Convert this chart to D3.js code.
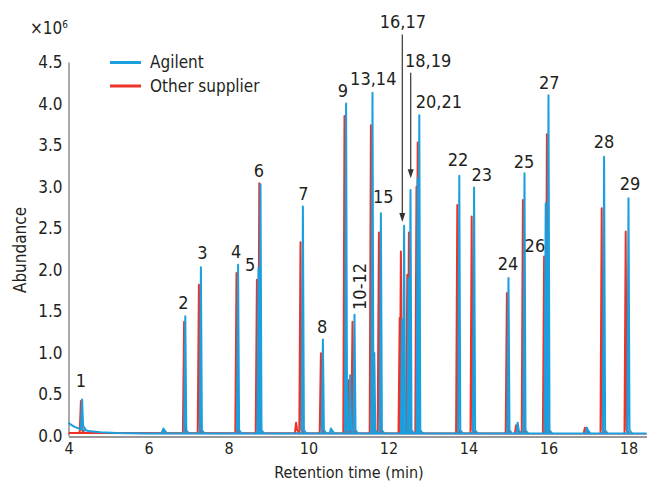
<!DOCTYPE html>
<html>
<head>
<meta charset="utf-8">
<script src="https://cdn.jsdelivr.net/npm/d3@7"></script>
<style>
  body { margin: 0; background: #fff; }
  text { font-family: "Liberation Sans Narrow", "DejaVu Sans Condensed", sans-serif; fill: #231f20; }
</style>
</head>
<body>
<div id="chart"></div>
<script>
// peak apexes (retention time in min, abundance in 1e6 counts)
var agilentRT = [4.34, 6.37, 6.92, 7.31, 8.24, 8.75, 8.80, 9.86, 10.36, 10.56, 10.94, 11.04, 11.15, 11.60, 11.645, 11.81,
    12.34, 12.39, 12.50, 12.55, 12.73, 12.77, 13.77, 14.14, 15.00, 15.23, 15.40, 15.93, 16.00, 16.96, 17.39, 18.00];
var agilentAbund = [0.44, 0.09, 1.44, 2.03, 2.06, 2.02, 3.03, 2.76, 1.16, 0.09, 4.00, 0.73, 1.46, 4.13, 1.00, 2.68,
    1.40, 2.53, 1.90, 2.96, 3.10, 3.86, 3.13, 2.99, 1.90, 0.16, 3.16, 2.80, 4.10, 0.10, 3.36, 2.86];

var otherRT = [4.31, 6.36, 6.89, 7.26, 8.20, 8.71, 8.77, 9.69, 9.80, 10.31, 10.90, 10.995, 11.10, 11.56, 11.62, 11.76,
    12.28, 12.31, 12.35, 12.47, 12.51, 12.70, 12.73, 13.72, 14.08, 14.96, 15.19, 15.36, 15.89, 15.96, 16.91, 17.33, 17.93];
var otherAbund = [0.42, 0.07, 1.375, 1.82, 1.96, 1.88, 3.04, 0.16, 2.33, 0.995, 3.85, 0.67, 1.375, 3.74, 0.35, 2.45,
    1.42, 2.22, 0.50, 1.94, 2.45, 3.00, 3.53, 2.78, 2.64, 1.72, 0.13, 2.84, 2.16, 3.63, 0.10, 2.74, 2.46];

// baselines
var agilentBaseRT = [4.0, 4.05, 4.15, 4.3, 4.5, 4.8, 5.2, 6.0, 18.45];
var agilentBaseAbund = [0.16, 0.14, 0.11, 0.085, 0.06, 0.045, 0.035, 0.03, 0.03];
var otherBaseRT = [4.0, 18.45];
var otherBaseAbund = [0.035, 0.03];

// peak numbers
var peakLabels = ["1", "2", "3", "4", "5", "6", "7", "8", "9", "13,14", "15", "20,21", "22", "23", "24", "25", "26", "27", "28", "29"];
var labelRT = [4.31, 6.87, 7.35, 8.19, 8.54, 8.76, 9.87, 10.34, 10.86, 11.62, 11.87, 13.26, 13.74, 14.33, 14.99, 15.39, 15.66, 16.02, 17.39, 18.04];
var labelAbund = [0.66, 1.6, 2.2, 2.22, 2.06, 3.19, 2.92, 1.315, 4.155, 4.3, 2.88, 4.02, 3.32, 3.15, 2.07, 3.3, 2.29, 4.25, 3.54, 3.04];

var timeTicks = [4, 6, 8, 10, 12, 14, 16, 18];
var abundTicks = [0, 0.5, 1, 1.5, 2, 2.5, 3, 3.5, 4, 4.5];

var blue = "#1a9fdf", red = "#ec3327";

var width = 647, height = 481;

var svg = d3.select("#chart")
    .append("svg")
    .attr("width", width)
    .attr("height", height);

var x = d3.scaleLinear().domain([4, 18.45]).range([68.5, 646.5]);
var y = d3.scaleLinear().domain([0, 4.5]).range([436, 62]);

// axes
var yAxis = svg.append("g")
    .attr("transform", "translate(68.5,0)")
    .call(d3.axisLeft(y).tickValues(abundTicks).tickSize(0).tickPadding(6).tickFormat(d3.format(".1f")));
yAxis.select(".domain").attr("stroke", "#555").attr("stroke-width", 1);
yAxis.selectAll("text").style("font-size", "17px");

var xAxis = svg.append("g")
    .attr("transform", "translate(0,436.5)")
    .call(d3.axisBottom(x).tickValues(timeTicks).tickSize(0).tickPadding(6));
xAxis.select(".domain").attr("stroke", "#999").attr("stroke-width", 2);
xAxis.selectAll("text").style("font-size", "16px");

var line = d3.line()
    .x(function(d) { return x(d[0]); })
    .y(function(d) { return y(d[1]); });

function drawTrace(rt, abund, baseRT, baseAbund, color) {
    var base = d3.scaleLinear().domain(baseRT).range(baseAbund);
    var g = svg.append("g")
        .attr("fill", "none")
        .attr("stroke", color)
        .attr("stroke-width", 2)
        .attr("stroke-linejoin", "round");

    g.append("path")
        .attr("d", line(baseRT.map(function(t, i) { return [t, baseAbund[i]]; })));

    rt.forEach(function(t, i) {
        var b = base(t);
        g.append("path")
            .attr("d", line([[t - 0.03, b], [t, abund[i]], [t + 0.025, b + 0.04], [t + 0.09, b]]));
    });
}

drawTrace(otherRT, otherAbund, otherBaseRT, otherBaseAbund, red);
drawTrace(agilentRT, agilentAbund, agilentBaseRT, agilentBaseAbund, blue);

// peak labels
svg.append("g")
    .selectAll("text")
    .data(peakLabels)
    .enter()
    .append("text")
    .attr("x", function(d, i) { return x(labelRT[i]); })
    .attr("y", function(d, i) { return y(labelAbund[i]); })
    .attr("dy", "0.35em")
    .style("text-anchor", "middle")
    .style("font-size", "18px")
    .text(function(d) { return d; });

// rotated 10-12
svg.append("text")
    .attr("transform", "translate(" + x(11.28) + "," + y(1.8) + ") rotate(-90)")
    .attr("dy", "0.35em")
    .style("text-anchor", "middle")
    .style("font-size", "18px")
    .text("10-12");

// arrowed labels
var arrowLabels = ["16,17", "18,19"];
var arrowRT = [12.345, 12.555];
var arrowTop = [4.83, 4.37];
var arrowTip = [2.575, 3.1];
var arrowTextRT = [12.36, 12.99];
var arrowTextAbund = [4.98, 4.51];

arrowLabels.forEach(function(lab, i) {
    svg.append("text")
        .attr("x", x(arrowTextRT[i]))
        .attr("y", y(arrowTextAbund[i]))
        .attr("dy", "0.35em")
        .style("text-anchor", "middle")
        .style("font-size", "18px")
        .text(lab);
    var ax = x(arrowRT[i]);
    svg.append("line")
        .attr("x1", ax).attr("x2", ax)
        .attr("y1", y(arrowTop[i])).attr("y2", y(arrowTip[i]) - 6)
        .attr("stroke", "#333")
        .attr("stroke-width", 1.2);
    var ty = y(arrowTip[i]);
    svg.append("path")
        .attr("d", "M" + ax + "," + ty + "L" + (ax - 3) + "," + (ty - 9) + "L" + (ax + 3) + "," + (ty - 9) + "Z")
        .attr("fill", "#333");
});

// legend
var legendNames = ["Agilent", "Other supplier"];
var legendColors = [blue, red];
var legend = svg.append("g");
legendNames.forEach(function(name, i) {
    var ly = 62.5 + i * 23.5;
    legend.append("line")
        .attr("x1", 110).attr("x2", 141)
        .attr("y1", ly).attr("y2", ly)
        .attr("stroke", legendColors[i])
        .attr("stroke-width", 3);
    legend.append("text")
        .attr("x", 150)
        .attr("y", ly)
        .attr("dy", "0.35em")
        .style("font-size", "17px")
        .text(name);
});

// axis titles
var mult = svg.append("text")
    .attr("x", 30)
    .attr("y", 34)
    .style("font-size", "17px")
    .text("×10");
mult.append("tspan")
    .attr("dy", -6)
    .style("font-size", "10px")
    .text("6");

svg.append("text")
    .attr("transform", "translate(20,250) rotate(-90)")
    .attr("dy", "0.35em")
    .style("text-anchor", "middle")
    .style("font-size", "17px")
    .text("Abundance");

svg.append("text")
    .attr("x", 349)
    .attr("y", 472)
    .attr("dy", "0.35em")
    .style("text-anchor", "middle")
    .style("font-size", "16px")
    .text("Retention time (min)");
</script>
</body>
</html>
